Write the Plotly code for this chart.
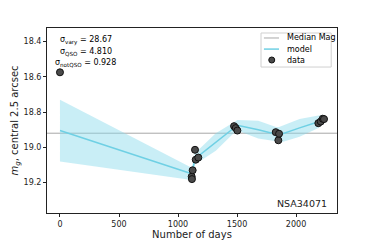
import plotly.graph_objects as go

# data
data_days = [0, 1116, 1118, 1124, 1144, 1150, 1172, 1475, 1489, 1503, 1828, 1850, 1856, 2189, 2209, 2226, 2237]
data_mag = [18.575, 19.166, 19.18, 19.13, 19.014, 19.07, 19.058, 18.88, 18.891, 18.905, 18.914, 18.96, 18.923, 18.863, 18.854, 18.838, 18.84]

model_days = [0, 1116, 1124, 1144, 1172, 1320, 1480, 1503, 1680, 1830, 1856, 2030, 2190, 2237]
model_mag = [18.905, 19.15, 19.13, 19.06, 19.05, 18.97, 18.885, 18.875, 18.90, 18.925, 18.93, 18.89, 18.855, 18.84]
model_err = [0.175, 0.035, 0.035, 0.035, 0.035, 0.05, 0.03, 0.03, 0.05, 0.04, 0.045, 0.05, 0.035, 0.025]

median_mag = 18.92
stats_labels = ["σ<sub>vary</sub> = ", "σ<sub>QSO</sub> = ", "σ<sub>notQSO</sub> = "]
stats_values = ["28.67", "4.810", "0.928"]
legend_labels = ["Median Mag", "model", "data"]
name = "NSA34071"

median_color = "#a8a8a8"
model_color = "#6fd0e4"
band_color = "rgba(135,218,235,0.45)"
dot_color = "#4a4a4a"

upper = [m - e for m, e in zip(model_mag, model_err)]
lower = [m + e for m, e in zip(model_mag, model_err)]

fig = go.Figure()
fig.add_trace(go.Scatter(x=[-110, 2347], y=[median_mag, median_mag], mode="lines",
                         line=dict(color=median_color, width=1), name="Median Mag", showlegend=False))
fig.add_trace(go.Scatter(x=model_days, y=upper, mode="lines", line=dict(width=0),
                         showlegend=False, hoverinfo="skip"))
fig.add_trace(go.Scatter(x=model_days, y=lower, mode="lines", line=dict(width=0),
                         fill="tonexty", fillcolor=band_color,
                         showlegend=False, hoverinfo="skip"))
fig.add_trace(go.Scatter(x=model_days, y=model_mag, mode="lines",
                         line=dict(color=model_color, width=1.5), name="model", showlegend=False))
fig.add_trace(go.Scatter(x=data_days, y=data_mag, mode="markers",
                         marker=dict(color=dot_color, size=7, line=dict(color="#111", width=1)),
                         name="data", showlegend=False))

for i, (lab, val) in enumerate(zip(stats_labels, stats_values)):
    fig.add_annotation(xref="paper", yref="paper", x=0.134, y=0.93 - i * 0.06,
                       xanchor="center", yanchor="middle", showarrow=False,
                       text=lab + val, font=dict(size=8, color="#000"))

fig.add_annotation(xref="paper", yref="paper", x=0.972, y=0.054, xanchor="right", yanchor="middle",
                   showarrow=False, text=name, font=dict(size=9.5, color="#222"))

# hand-drawn legend box (compact, matplotlib style)
shapes = [dict(type="rect", xref="paper", yref="paper", x0=0.738, x1=0.98, y0=0.789, y1=0.973,
               line=dict(color="#d0d0d0", width=1), fillcolor="rgba(255,255,255,0.85)", layer="above")]
rows = [0.946, 0.886, 0.827]
shapes.append(dict(type="line", xref="paper", yref="paper", x0=0.748, x1=0.80, y0=rows[0], y1=rows[0],
                   line=dict(color=median_color, width=1), layer="above"))
shapes.append(dict(type="line", xref="paper", yref="paper", x0=0.748, x1=0.80, y0=rows[1], y1=rows[1],
                   line=dict(color=model_color, width=1.5), layer="above"))
shapes.append(dict(type="circle", xref="paper", yref="paper", xsizemode="pixel", ysizemode="pixel",
                   xanchor=0.775, yanchor=rows[2], x0=-3, x1=3, y0=-3, y1=3,
                   fillcolor=dot_color, line=dict(color="#111", width=1), layer="above"))
for lab, r in zip(legend_labels, rows):
    fig.add_annotation(xref="paper", yref="paper", x=0.82, y=r, xanchor="left", yanchor="middle",
                       showarrow=False, text=lab, font=dict(size=8, color="#000"))

axis_common = dict(showline=True, linecolor="#222", linewidth=1, mirror=True, ticks="outside",
                   ticklen=3, tickcolor="#222", showgrid=False, zeroline=False, automargin=False,
                   tickfont=dict(size=8, color="#222"))

fig.update_layout(
    width=374, height=240,
    margin=dict(l=47, r=37, t=28, b=27),
    paper_bgcolor="white", plot_bgcolor="white",
    font=dict(family="DejaVu Sans", color="#222"),
    shapes=shapes,
    xaxis=dict(range=[-110, 2347], tickvals=[0, 500, 1000, 1500, 2000],
               title=dict(text="Number of days", font=dict(size=10), standoff=2), **axis_common),
    yaxis=dict(range=[19.372, 18.324], tickvals=[18.4, 18.6, 18.8, 19.0, 19.2],
               ticktext=["18.4", "18.6", "18.8", "19.0", "19.2"],
               title=dict(text="<i>m<sub>g</sub></i>, central 2.5 arcsec", font=dict(size=10), standoff=3),
               **axis_common),
    showlegend=False,
)

fig.write_html("out.html", config={"displayModeBar": False},
               post_script="document.body.style.margin='0';document.body.style.overflow='hidden';")
